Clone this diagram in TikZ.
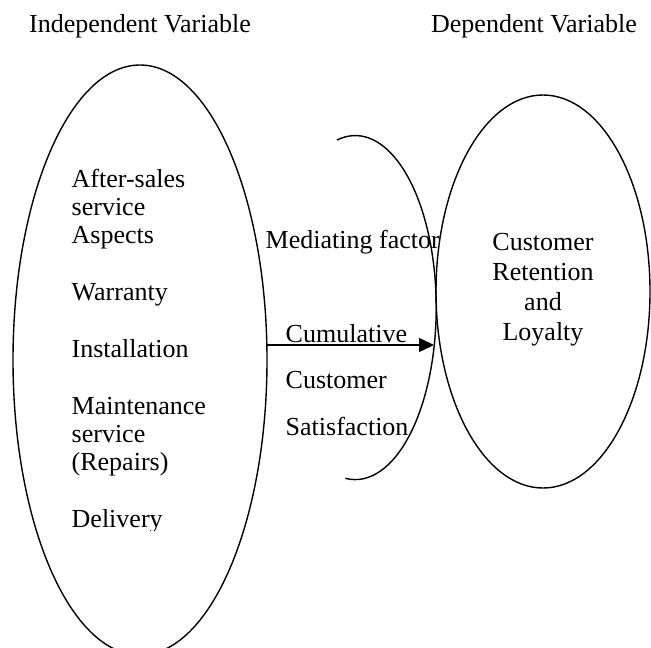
\documentclass[tikz,border=0pt]{standalone}
\usepackage{fontspec}
\setmainfont{Liberation Serif}
\usetikzlibrary{arrows.meta, shapes.geometric}

\begin{document}
\begin{tikzpicture}[x=0.5pt, y=-0.5pt, line width=0.7pt,
  font=\fontsize{13pt}{15pt}\selectfont,
  txt/.style={anchor=base west, inner sep=0pt},
  ctr/.style={anchor=base, inner sep=0pt},
  oval/.style={draw, ellipse, inner sep=0pt, outer sep=0pt}]
\useasboundingbox (0,0) rectangle (651,647);
% Headings
\node[ctr] (indeptitle) at (140,33) {Independent Variable};
\node[ctr] (deptitle) at (534,33) {Dependent Variable};
% Independent variable oval
\node[oval, minimum width=127pt, minimum height=295pt] (indep) at (140,360) {};
\node[txt] (aftersales) at (71,187) {After-sales};
\node[txt] (service) at (71,215) {service};
\node[txt] (aspects) at (71,243) {Aspects};
\node[txt] (warranty) at (71,300) {Warranty};
\node[txt] (installation) at (71,357) {Installation};
\node[txt] (maintenance) at (71,414) {Maintenance};
\node[txt] (mservice) at (71,442) {service};
\node[txt] (repairs) at (71,470) {(Repairs)};
\begin{scope}
\clip (0,0) rectangle (651,530);
\node[txt] (delivery) at (71,527) {Delivery};
\end{scope}
% Mediating factor, open bracket
\coordinate (medc) at (355,308);
\draw (337,140) arc[start angle=-103, end angle=97, x radius=81, y radius=172];
\node[txt] (mediating) at (265,248) {Mediating factor};
\node[txt] (cumulative) at (285,342) {Cumulative};
\node[txt] (customer) at (285,388) {Customer};
\node[txt] (satisfaction) at (285,435) {Satisfaction};
% Dependent variable oval
\node[oval, minimum width=107pt, minimum height=196.5pt] (dep) at (543,291.5) {};
\node[ctr] (retcust) at (543,250) {Customer};
\node[ctr] (retention) at (543,280) {Retention};
\node[ctr] (retand) at (543,310) {and};
\node[ctr] (loyalty) at (543,340) {Loyalty};
% Arrow to the mediating factor
\coordinate (tip) at (434,345);
\draw[-{Triangle[length=7.5pt,width=7pt]}] (indep.7 |- tip) -- (tip);
\end{tikzpicture}
\end{document}
